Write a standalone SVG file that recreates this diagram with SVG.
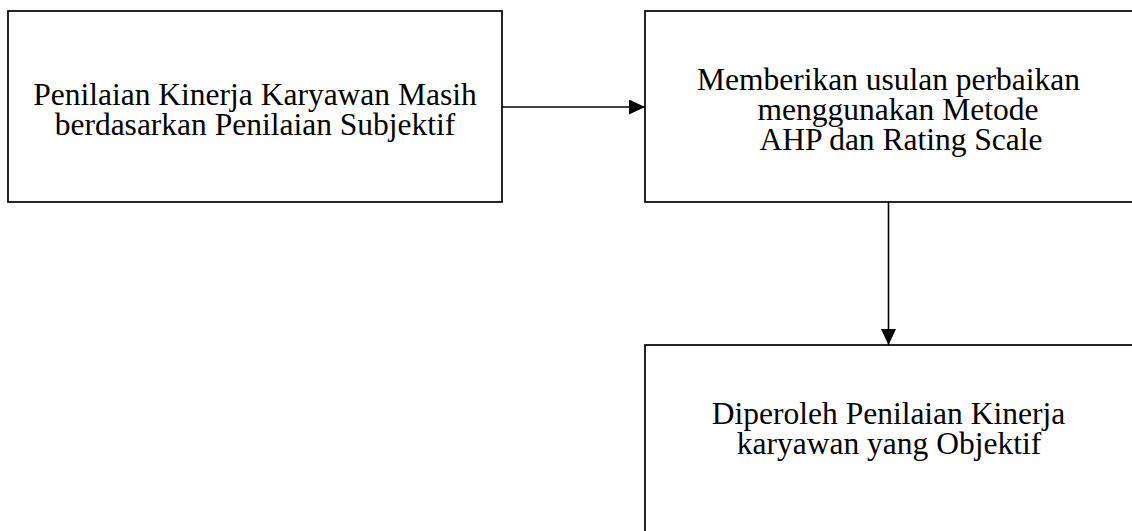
<svg xmlns="http://www.w3.org/2000/svg" width="1132" height="531" viewBox="0 0 1132 531">
<style>
.box{fill:#fff;stroke:#000;stroke-width:1.7}
.t{font-family:"Liberation Serif","Times New Roman",serif;font-size:31.5px;fill:#000;text-anchor:middle}
.c{stroke:#000;stroke-width:1.6;fill:none}
</style>
<defs>
<marker id="ah" markerWidth="16" markerHeight="15" refX="16" refY="7.5" orient="auto" markerUnits="userSpaceOnUse">
<path d="M0,0 L16,7.5 L0,15 Z" fill="#000"/>
</marker>
</defs>
<rect width="1132" height="531" fill="#fff"/>
<g id="node1">
<rect class="box" x="8" y="11" width="494" height="191"/>
<text class="t" x="255" y="105">Penilaian Kinerja Karyawan Masih</text>
<text class="t" x="255" y="135">berdasarkan Penilaian Subjektif</text>
</g>
<g id="node2">
<rect class="box" x="645" y="11" width="490" height="191"/>
<text class="t" x="888.5" y="90">Memberikan usulan perbaikan</text>
<text class="t" x="898" y="120">menggunakan Metode</text>
<text class="t" x="901" y="150">AHP dan Rating Scale</text>
</g>
<g id="node3">
<rect class="box" x="645" y="345" width="490" height="200"/>
<text class="t" x="888.5" y="424">Diperoleh Penilaian Kinerja</text>
<text class="t" x="889" y="454">karyawan yang Objektif</text>
</g>
<g id="connectors">
<line class="c" x1="502" y1="107" x2="645" y2="107" marker-end="url(#ah)"/>
<line class="c" x1="888.5" y1="202" x2="888.5" y2="345" marker-end="url(#ah)"/>
</g>
</svg>
